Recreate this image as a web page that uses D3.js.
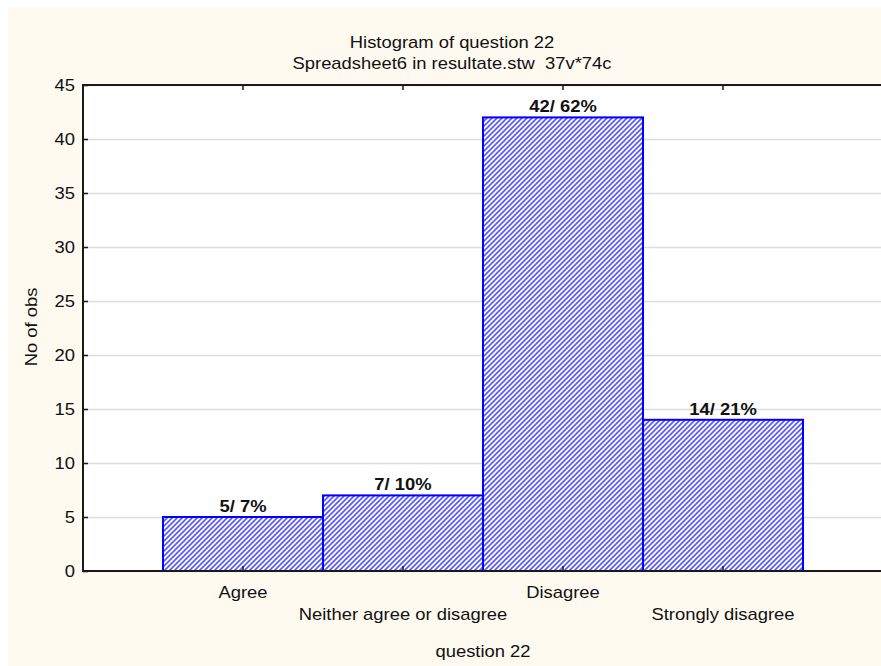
<!DOCTYPE html>
<html>
<head>
<meta charset="utf-8">
<script src="https://cdn.jsdelivr.net/npm/d3@7"></script>
<style>
  body { margin: 0; background: #fff; }
  svg text { font-family: "Liberation Sans", Arial, sans-serif; }
</style>
</head>
<body>
<div id="chart"></div>
<script>
// data
var categories = ["Agree", "Neither agree or disagree", "Disagree", "Strongly disagree"]
var counts = [5, 7, 42, 14]
var percents = ["7%", "10%", "62%", "21%"]
var yTicks = [0, 5, 10, 15, 20, 25, 30, 35, 40, 45]

var width = 881
var height = 666
var margin = { top: 85, right: -2, bottom: 95, left: 83 }
// the original text is drawn a bit wide
var stretch = 1.15

var svg = d3.select("#chart")
  .append("svg")
  .attr("width", width)
  .attr("height", height)

// put a text at x,y, widened around its anchor
function addText(x, y, str, anchor, rotate) {
  return svg.append("text")
    .attr("transform", `translate(${x},${y})` + (rotate ? ` rotate(${rotate})` : "") + ` scale(${stretch},1)`)
    .attr("text-anchor", anchor || "middle")
    .attr("xml:space", "preserve")
    .text(str)
    .style("font-size", "16px")
    .style("fill", "#111")
}

// cream page
svg.append("rect")
  .attr("x", 8)
  .attr("y", 7)
  .attr("width", width - 8)
  .attr("height", height - 7)
  .style("fill", "#fffaf0")

// hatch for bars
var pattern = svg.append("defs")
  .append("pattern")
  .attr("id", "hatch")
  .attr("patternUnits", "userSpaceOnUse")
  .attr("width", 5)
  .attr("height", 5)
pattern.append("rect")
  .attr("width", 5)
  .attr("height", 5)
  .style("fill", "#ffffff")
pattern.append("path")
  .attr("d", "M-1,6 L6,-1 M-1,1 L1,-1 M4,6 L6,4")
  .style("stroke", "#5a5aff")
  .style("stroke-width", 1.7)

var xScale = d3.scaleBand()
  .domain(categories)
  .range([margin.left, width - margin.right])
  .paddingInner(0)
  .paddingOuter(0.5)

var yScale = d3.scaleLinear()
  .domain([0, 45])
  .range([height - margin.bottom, margin.top])

var x0 = margin.left, x1 = width - margin.right
var y0 = margin.top, y1 = height - margin.bottom

// plot area
svg.append("rect")
  .attr("x", x0)
  .attr("y", y0)
  .attr("width", x1 - x0)
  .attr("height", y1 - y0)
  .style("fill", "#ffffff")

// grid
var yGrid = d3.axisLeft(yScale)
  .tickValues(yTicks)
  .tickSize(-(x1 - x0))
  .tickFormat("")
svg.append("g")
  .attr("transform", `translate(${x0},0)`)
  .attr("class", "grid")
  .call(yGrid)
  .call(g => g.select(".domain").remove())
  .selectAll("line")
  .style("stroke", "#dcdcdc")
  .style("stroke-width", 1.5)

// bars
svg.selectAll("bars")
  .data(categories)
  .enter()
  .append("rect")
  .attr("x", d => xScale(d))
  .attr("y", (d, i) => yScale(counts[i]))
  .attr("width", xScale.bandwidth())
  .attr("height", (d, i) => yScale(0) - yScale(counts[i]))
  .style("fill", "url(#hatch)")
  .style("stroke", "#0000ff")
  .style("stroke-width", 2)

// value labels
categories.forEach(function(d, i) {
  addText(xScale(d) + xScale.bandwidth() / 2, yScale(counts[i]) - 5, counts[i] + "/ " + percents[i])
    .style("font-weight", "bold")
})

// frame: left, top, bottom
svg.append("path")
  .attr("d", `M${x1},${y0} H${x0} V${y1} H${x1}`)
  .style("fill", "none")
  .style("stroke", "#1a1a1a")
  .style("stroke-width", 2)

// Y axis ticks, pointing inward
var yAxis = d3.axisLeft(yScale)
  .tickValues(yTicks)
  .tickSize(-5)
  .tickFormat("")
svg.append("g")
  .attr("transform", `translate(${x0},0)`)
  .attr("class", "y-axis")
  .call(yAxis)
  .call(g => g.select(".domain").remove())
  .selectAll("line")
  .style("stroke", "#1a1a1a")
  .style("stroke-width", 1.5)

yTicks.forEach(function(t) {
  addText(75, yScale(t) + 6, String(t), "end")
})

// X ticks on bottom and top, pointing inward
svg.selectAll("xticks")
  .data(categories)
  .enter()
  .append("line")
  .attr("x1", d => xScale(d) + xScale.bandwidth() / 2)
  .attr("x2", d => xScale(d) + xScale.bandwidth() / 2)
  .attr("y1", y1)
  .attr("y2", y1 - 5)
  .style("stroke", "#1a1a1a")
  .style("stroke-width", 1.5)
svg.selectAll("xticksTop")
  .data(categories)
  .enter()
  .append("line")
  .attr("x1", d => xScale(d) + xScale.bandwidth() / 2)
  .attr("x2", d => xScale(d) + xScale.bandwidth() / 2)
  .attr("y1", y0)
  .attr("y2", y0 + 5)
  .style("stroke", "#1a1a1a")
  .style("stroke-width", 1.5)

// X labels, staggered
categories.forEach(function(d, i) {
  addText(xScale(d) + xScale.bandwidth() / 2, i % 2 == 0 ? 598 : 620, d)
})

// titles
addText(452, 48, "Histogram of question 22")
addText(452, 69, "Spreadsheet6 in resultate.stw  37v*74c")
addText((x0 + x1) / 2, 657, "question 22")
addText(37, 327, "No of obs", "middle", -90)
</script>
</body>
</html>
